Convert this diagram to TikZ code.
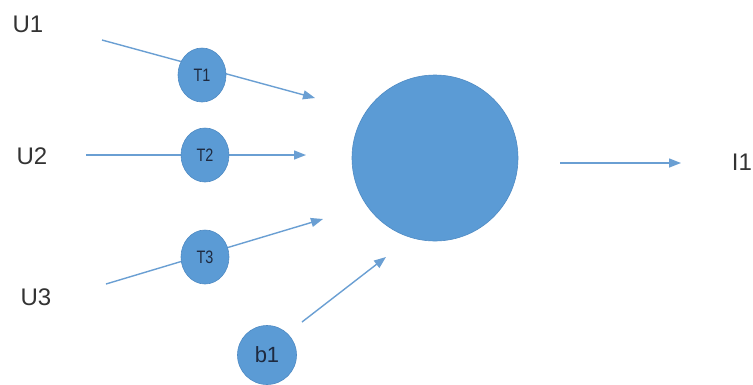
\documentclass[tikz,border=0pt]{standalone}
\usepackage{fontspec}
\setmainfont{Liberation Sans}
\usetikzlibrary{arrows.meta,shapes.geometric}
\definecolor{nblue}{HTML}{5B9BD5}
\definecolor{nedge}{HTML}{4F8BC4}
\definecolor{lblue}{HTML}{6A9FD3}
\definecolor{ntext}{HTML}{1E2A40}
\definecolor{ltext}{HTML}{333333}
\begin{document}
\begin{tikzpicture}[x=1pt,y=-1pt,
  lbl/.style={font=\fontsize{24}{28}\selectfont, text=ltext, inner sep=0pt},
  wnode/.style={ellipse, fill=nblue, draw=nedge, line width=0.6pt, inner sep=0pt, minimum width=48pt, minimum height=54pt, text=ntext, font=\fontsize{18}{20}\selectfont},
  bnode/.style={circle, fill=nblue, draw=nedge, line width=0.6pt, inner sep=0pt, minimum size=59pt, text=ntext, font=\fontsize{22}{24}\selectfont},
  big/.style={circle, fill=nblue, draw=nedge, line width=0.6pt, minimum size=166pt, inner sep=0pt},
  conn/.style={draw=lblue, line width=1.4pt, -{Triangle[length=12pt,width=9pt]}}]
\useasboundingbox (0,0) rectangle (753,384);
\fill[white] (0,0) rectangle (753,384);
% labels
\node[lbl] (u1) at (28,24) {U1};
\node[lbl] (u2) at (32,156) {U2};
\node[lbl] (u3) at (36,297) {U3};
\node[lbl] (i1) at (742,162) {I1};
% connector endpoints
\coordinate (s1) at (102,40);
\coordinate (e1) at (315,98);
\coordinate (s2) at (86,155);
\coordinate (e2) at (306,155);
\coordinate (s3) at (106,284);
\coordinate (e3) at (323,219);
\coordinate (sb) at (302,322);
\coordinate (eb) at (386,257);
\coordinate (so) at (560,163);
\coordinate (eo) at (681,163);
% connectors
\draw[conn] (s1) -- (e1);
\draw[conn] (s2) -- (e2);
\draw[conn] (s3) -- (e3);
\draw[conn] (sb) -- (eb);
\draw[conn] (so) -- (eo);
% nodes
\node[big] (n) at (435,158) {};
\node[wnode] (t1) at (202,75) {\scalebox{0.8}[1]{T1}};
\node[wnode] (t2) at (205,155) {\scalebox{0.8}[1]{T2}};
\node[wnode] (t3) at (205,257) {\scalebox{0.8}[1]{T3}};
\node[bnode] (b1) at (267,355) {b1};
\end{tikzpicture}
\end{document}
